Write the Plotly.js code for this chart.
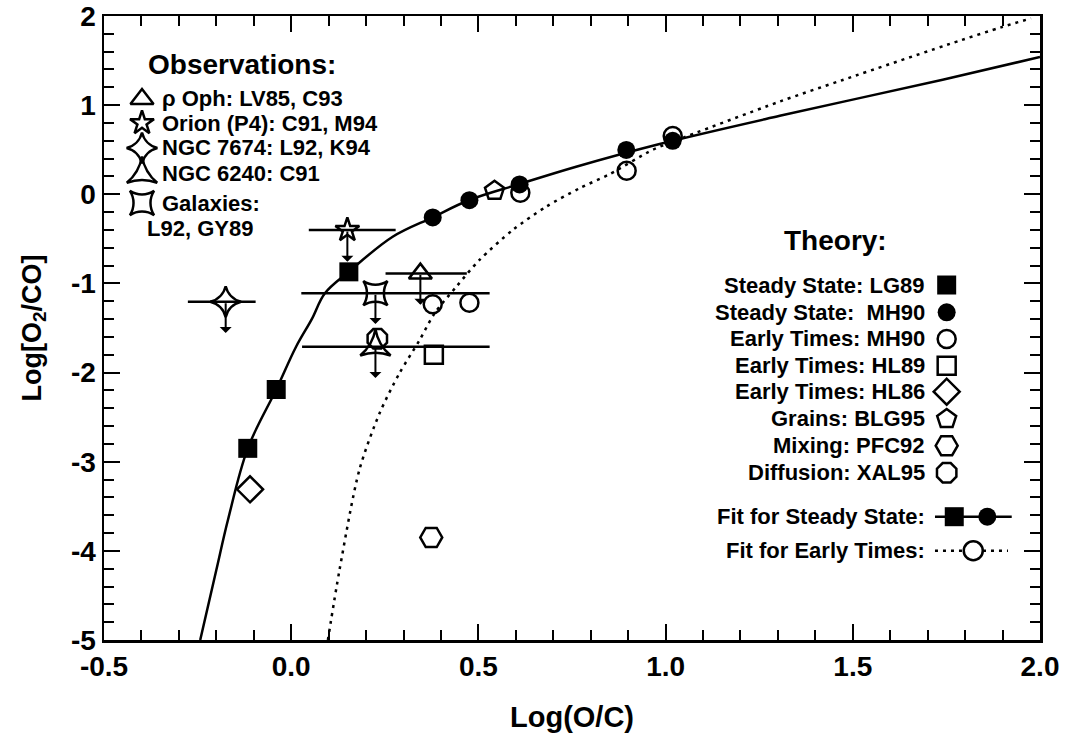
<!DOCTYPE html>
<html><head><meta charset="utf-8">
<script src="https://cdn.plot.ly/plotly-3.0.1.min.js"></script>
<style>html,body{margin:0;padding:0;background:#fff}#wrap{position:relative;width:1070px;height:740px}#tk{position:absolute;left:0;top:0;pointer-events:none;z-index:10}</style>
</head><body><div id="wrap"><div id="chart" style="width:1070px;height:740px"></div>
<svg id="tk" width="1070" height="740" xmlns="http://www.w3.org/2000/svg"></svg></div>
<script>
// ---------- Axis ticks ----------
const xRange = [-0.5, 2.0];
const yRange = [-5, 2];
const xMajor = 0.5, xMinor = 0.1, yMajor = 1, yMinor = 0.2;
const xTickText = ['-0.5', '0.0', '0.5', '1.0', '1.5', '2.0'];
const yTickText = ['-5', '-4', '-3', '-2', '-1', '0', '1', '2'];

// ---------- Theory ----------
const lg89X = [-0.116, -0.040, 0.154];
const lg89Y = [-2.85, -2.19, -0.87];
const mh90ssX = [0.378, 0.476, 0.610, 0.895, 1.019];
const mh90ssY = [-0.26, -0.066, 0.11, 0.497, 0.60];
const mh90etX = [0.378, 0.476, 0.612, 0.896, 1.019];
const mh90etY = [-1.234, -1.216, 0.018, 0.265, 0.654];
const hl89X = [0.381], hl89Y = [-1.80];
const hl86X = [-0.110], hl86Y = [-3.31];
const blg95X = [0.543], blg95Y = [0.04];
const pfc92X = [0.374], pfc92Y = [-3.85];
const xal95X = [0.230], xal95Y = [-1.62];

// ---------- Fits ----------
const fitSSX = [-0.243, -0.200, -0.169, -0.116, -0.040, 0.013, 0.055, 0.090, 0.154, 0.271, 0.378, 0.476, 0.610, 0.761, 0.984, 1.305, 1.740, 2.000];
const fitSSY = [-5.00, -4.215, -3.654, -2.85, -2.19, -1.71, -1.40, -1.11, -0.868, -0.476, -0.258, -0.064, 0.115, 0.309, 0.564, 0.880, 1.285, 1.540];
const fitETX = [0.098, 0.129, 0.182, 0.236, 0.289, 0.343, 0.383, 0.441, 0.503, 0.592, 0.681, 0.770, 0.850, 0.966, 1.019, 1.304, 1.473, 1.785, 1.896, 1.976];
const fitETY = [-5.00, -4.215, -3.093, -2.457, -2.008, -1.635, -1.335, -1.037, -0.737, -0.400, -0.139, 0.067, 0.225, 0.500, 0.590, 1.039, 1.282, 1.723, 1.873, 1.974];

// ---------- Observations ----------
const obsNames = ['ρ Oph: LV85, C93', 'Orion (P4): C91, M94', 'NGC 7674: L92, K94', 'NGC 6240: C91', 'Galaxies:'];
const obsSymbols = ['triangle-up-open', 'star-open', 'star-diamond-open', 'star-triangle-up-open', 'star-square-open'];
const obsSizes = [20, 18, 22, 22, 22];
const obsX = [0.345, 0.150, -0.175, 0.225, 0.225];
const obsY = [-0.89, -0.40, -1.205, -1.71, -1.11];
const obsXlo = [0.252, 0.047, -0.276, 0.029, 0.027];
const obsXhi = [0.469, 0.279, -0.095, 0.530, 0.530];
const obsYlim = [-1.24, -0.757, -1.556, -2.06, -1.455];

// ---------- Legend labels ----------
const theoryNames = ['Steady State: LG89', 'Steady State:\u00a0 MH90', 'Early Times: MH90', 'Early Times: HL89',
  'Early Times: HL86', 'Grains: BLG95', 'Mixing: PFC92', 'Diffusion: XAL95'];
const fitNames = ['Fit for Steady State:', 'Fit for Early Times:'];

const FONT = 'Liberation Sans, Arial, Helvetica, sans-serif';
const K = '#000';
const M = {l: 104, r: 30, t: 16, b: 100};
const W = 1070, H = 740;

// paper fraction -> data coordinate (legend keys inside the frame)
const px = f => xRange[0] + f * (xRange[1] - xRange[0]);
const py = f => yRange[0] + f * (yRange[1] - yRange[0]);

// keep plain hyphen-minus in tick labels
function alias(list) {
  const o = {};
  list.forEach(t => { if (t.startsWith('-')) o['\u2212' + t.slice(1)] = t; });
  return o;
}

function mk(symbol, size, filled) {
  return filled ? {symbol: symbol, size: size, color: K, opacity: 1, line: {width: 0}}
                : {symbol: symbol, size: size, color: K, opacity: 1, line: {color: K, width: 2.5}};
}
const theoryMarkers = [
  mk('square', 19, true), mk('circle', 18, true), mk('circle-open', 18, false), mk('square-open', 18, false),
  mk('diamond-open', 20, false), mk('pentagon-open', 20, false), mk('hexagon2-open', 22, false), mk('octagon-open', 21, false)
];
const theoryX = [lg89X, mh90ssX, mh90etX, hl89X, hl86X, blg95X, pfc92X, xal95X];
const theoryY = [lg89Y, mh90ssY, mh90etY, hl89Y, hl86Y, blg95Y, pfc92Y, xal95Y];

const traces = [];
traces.push({x: fitSSX, y: fitSSY, mode: 'lines', line: {color: K, width: 2.5, shape: 'spline', smoothing: 1.0}, hoverinfo: 'skip'});
traces.push({x: fitETX, y: fitETY, mode: 'lines', line: {color: K, width: 2.5, dash: '3px,5px', shape: 'spline', smoothing: 0.8}, hoverinfo: 'skip'});

obsNames.forEach((n, i) => {
  traces.push({
    x: [obsX[i]], y: [obsY[i]], mode: 'markers', name: n,
    marker: mk(obsSymbols[i], obsSizes[i], false),
    error_x: {type: 'data', symmetric: false, array: [obsXhi[i] - obsX[i]], arrayminus: [obsX[i] - obsXlo[i]],
              color: K, thickness: 2.5, width: 0}
  });
});
const order = [2, 3, 4, 5, 6, 7, 0, 1];
order.forEach(i => {
  traces.push({x: theoryX[i], y: theoryY[i], mode: 'markers', name: theoryNames[i], marker: theoryMarkers[i]});
});

// ---------- Legend layout (fractions of the plot frame) ----------
const obsLegX = 0.0406, obsLegTextX = 0.0598;
const obsLegY = [0.867, 0.8285, 0.7885, 0.7468, 0.7003];
const thLegSymX = 0.9003, thLegTextX = 0.879;
const thLegY = [0.5689, 0.5252, 0.4824, 0.4396, 0.3979, 0.3542, 0.3114, 0.2681];
const fitLegY = [0.1976, 0.1431];

obsNames.forEach((n, i) => {
  traces.push({x: [px(obsLegX)], y: [py(obsLegY[i])], mode: 'markers',
               marker: mk(obsSymbols[i], obsSizes[i], false), hoverinfo: 'skip'});
});
theoryNames.forEach((n, i) => {
  traces.push({x: [px(thLegSymX)], y: [py(thLegY[i])], mode: 'markers', marker: theoryMarkers[i], hoverinfo: 'skip'});
});
traces.push({x: [px(0.8878), px(0.9698)], y: [py(fitLegY[0]), py(fitLegY[0])], mode: 'lines',
             line: {color: K, width: 2.5}, hoverinfo: 'skip'});
traces.push({x: [px(0.9084)], y: [py(fitLegY[0])], mode: 'markers', marker: mk('square', 19, true), hoverinfo: 'skip'});
traces.push({x: [px(0.9437)], y: [py(fitLegY[0])], mode: 'markers', marker: mk('circle', 18, true), hoverinfo: 'skip'});
traces.push({x: [px(0.8878), px(0.9658)], y: [py(fitLegY[1]), py(fitLegY[1])], mode: 'lines',
             line: {color: K, width: 2.5, dash: '3px,5px'}, hoverinfo: 'skip'});
traces.push({x: [px(0.9287)], y: [py(fitLegY[1])], mode: 'markers',
             marker: {symbol: 'circle', size: 19, color: '#fff', opacity: 1, line: {color: K, width: 2.5}}, hoverinfo: 'skip'});

// ---------- Annotations ----------
const ann = [];
obsNames.forEach((n, i) => {
  ann.push({x: obsX[i], y: obsYlim[i], ax: obsX[i], ay: obsY[i], xref: 'x', yref: 'y', axref: 'x', ayref: 'y',
            text: '', showarrow: true, arrowhead: 1, arrowsize: 1, arrowwidth: 2, arrowcolor: K, standoff: 0, startstandoff: 0});
});
const legFont = {family: FONT, size: 22, color: K, weight: 'bold'};
const headFont = {family: FONT, size: 28, color: K, weight: 'bold'};
ann.push({xref: 'paper', yref: 'paper', x: 0.1474, y: 0.9215, text: 'Observations:', showarrow: false, font: headFont, xanchor: 'center', yanchor: 'middle'});
obsNames.forEach((n, i) => {
  ann.push({xref: 'paper', yref: 'paper', x: obsLegTextX, y: obsLegY[i], text: n, showarrow: false, font: legFont, xanchor: 'left', yanchor: 'middle'});
});
ann.push({xref: 'paper', yref: 'paper', x: 0.0438, y: 0.660, text: 'L92, GY89', showarrow: false, font: legFont, xanchor: 'left', yanchor: 'middle'});
ann.push({xref: 'paper', yref: 'paper', x: 0.782, y: 0.641, text: 'Theory:', showarrow: false, font: headFont, xanchor: 'center', yanchor: 'middle'});
theoryNames.forEach((n, i) => {
  ann.push({xref: 'paper', yref: 'paper', x: thLegTextX, y: thLegY[i], text: n, showarrow: false, font: legFont, xanchor: 'right', yanchor: 'middle'});
});
fitNames.forEach((n, i) => {
  ann.push({xref: 'paper', yref: 'paper', x: thLegTextX, y: fitLegY[i], text: n, showarrow: false, font: legFont, xanchor: 'right', yanchor: 'middle'});
});

const tickFont = {family: FONT, size: 28, color: K, weight: 'bold'};
const axCommon = {
  showline: true, linecolor: K, linewidth: 2.5, mirror: 'ticks', ticks: 'inside', ticklen: 16, tickwidth: 2, tickcolor: K,
  showgrid: false, zeroline: false, tickfont: tickFont
};
const layout = {
  width: W, height: H, showlegend: false,
  margin: M,
  font: {family: FONT, color: K},
  xaxis: Object.assign({}, axCommon, {
    range: xRange, tick0: xRange[0], dtick: xMajor, tickformat: '.1f', labelalias: alias(xTickText),
    minor: {dtick: xMinor, ticks: 'inside', ticklen: 10, tickwidth: 2, tickcolor: K, showgrid: false},
    title: {text: 'Log(O/C)', font: {family: FONT, size: 29, color: K, weight: 'bold'}, standoff: 26}
  }),
  yaxis: Object.assign({}, axCommon, {
    range: yRange, dtick: yMajor, labelalias: alias(yTickText),
    minor: {dtick: yMinor, ticks: 'inside', ticklen: 10, tickwidth: 2, tickcolor: K, showgrid: false},
    title: {text: 'Log[O<sub>2</sub>/CO]', font: {family: FONT, size: 27, color: K, weight: 'bold'}, standoff: 22}
  }),
  annotations: ann
};

// ---------- Inside tick marks on all four frame sides (overlay, same scale as the axes) ----------
function drawTickOverlay() {
  const svg = document.getElementById('tk');
  while (svg.firstChild) svg.removeChild(svg.firstChild);
  const gd = document.getElementById('chart');
  const fl = gd._fullLayout;
  const xa = fl && fl.xaxis, ya = fl && fl.yaxis;
  const x0 = xa ? xa._offset : M.l, xl = xa ? xa._length : (W - M.l - M.r);
  const y0 = ya ? ya._offset : M.t, yl = ya ? ya._length : (H - M.t - M.b);
  const X = v => x0 + (v - xRange[0]) / (xRange[1] - xRange[0]) * xl;
  const Y = v => y0 + (yRange[1] - v) / (yRange[1] - yRange[0]) * yl;
  const near = (v, s) => Math.abs(v / s - Math.round(v / s)) < 1e-6;
  let d = '';
  const nx = Math.round((xRange[1] - xRange[0]) / xMinor);
  for (let i = 1; i < nx; i++) {
    const v = xRange[0] + i * xMinor;
    const len = near(v - xRange[0], xMajor) ? 16 : 10;
    const p = Math.round(X(v));
    d += 'M' + p + ',' + (y0 + yl) + 'v-' + len + 'M' + p + ',' + y0 + 'v' + len;
  }
  const ny = Math.round((yRange[1] - yRange[0]) / yMinor);
  for (let i = 1; i < ny; i++) {
    const v = yRange[0] + i * yMinor;
    const len = near(v - yRange[0], yMajor) ? 16 : 10;
    const q = Math.round(Y(v));
    d += 'M' + x0 + ',' + q + 'h' + len + 'M' + (x0 + xl) + ',' + q + 'h-' + len;
  }
  const path = document.createElementNS('http://www.w3.org/2000/svg', 'path');
  path.setAttribute('d', d);
  path.setAttribute('stroke', K);
  path.setAttribute('stroke-width', '2');
  path.setAttribute('fill', 'none');
  path.setAttribute('shape-rendering', 'crispEdges');
  svg.appendChild(path);
}

drawTickOverlay();
Plotly.newPlot('chart', traces, layout, {displayModeBar: false, staticPlot: true}).then(drawTickOverlay);
</script></body></html>
